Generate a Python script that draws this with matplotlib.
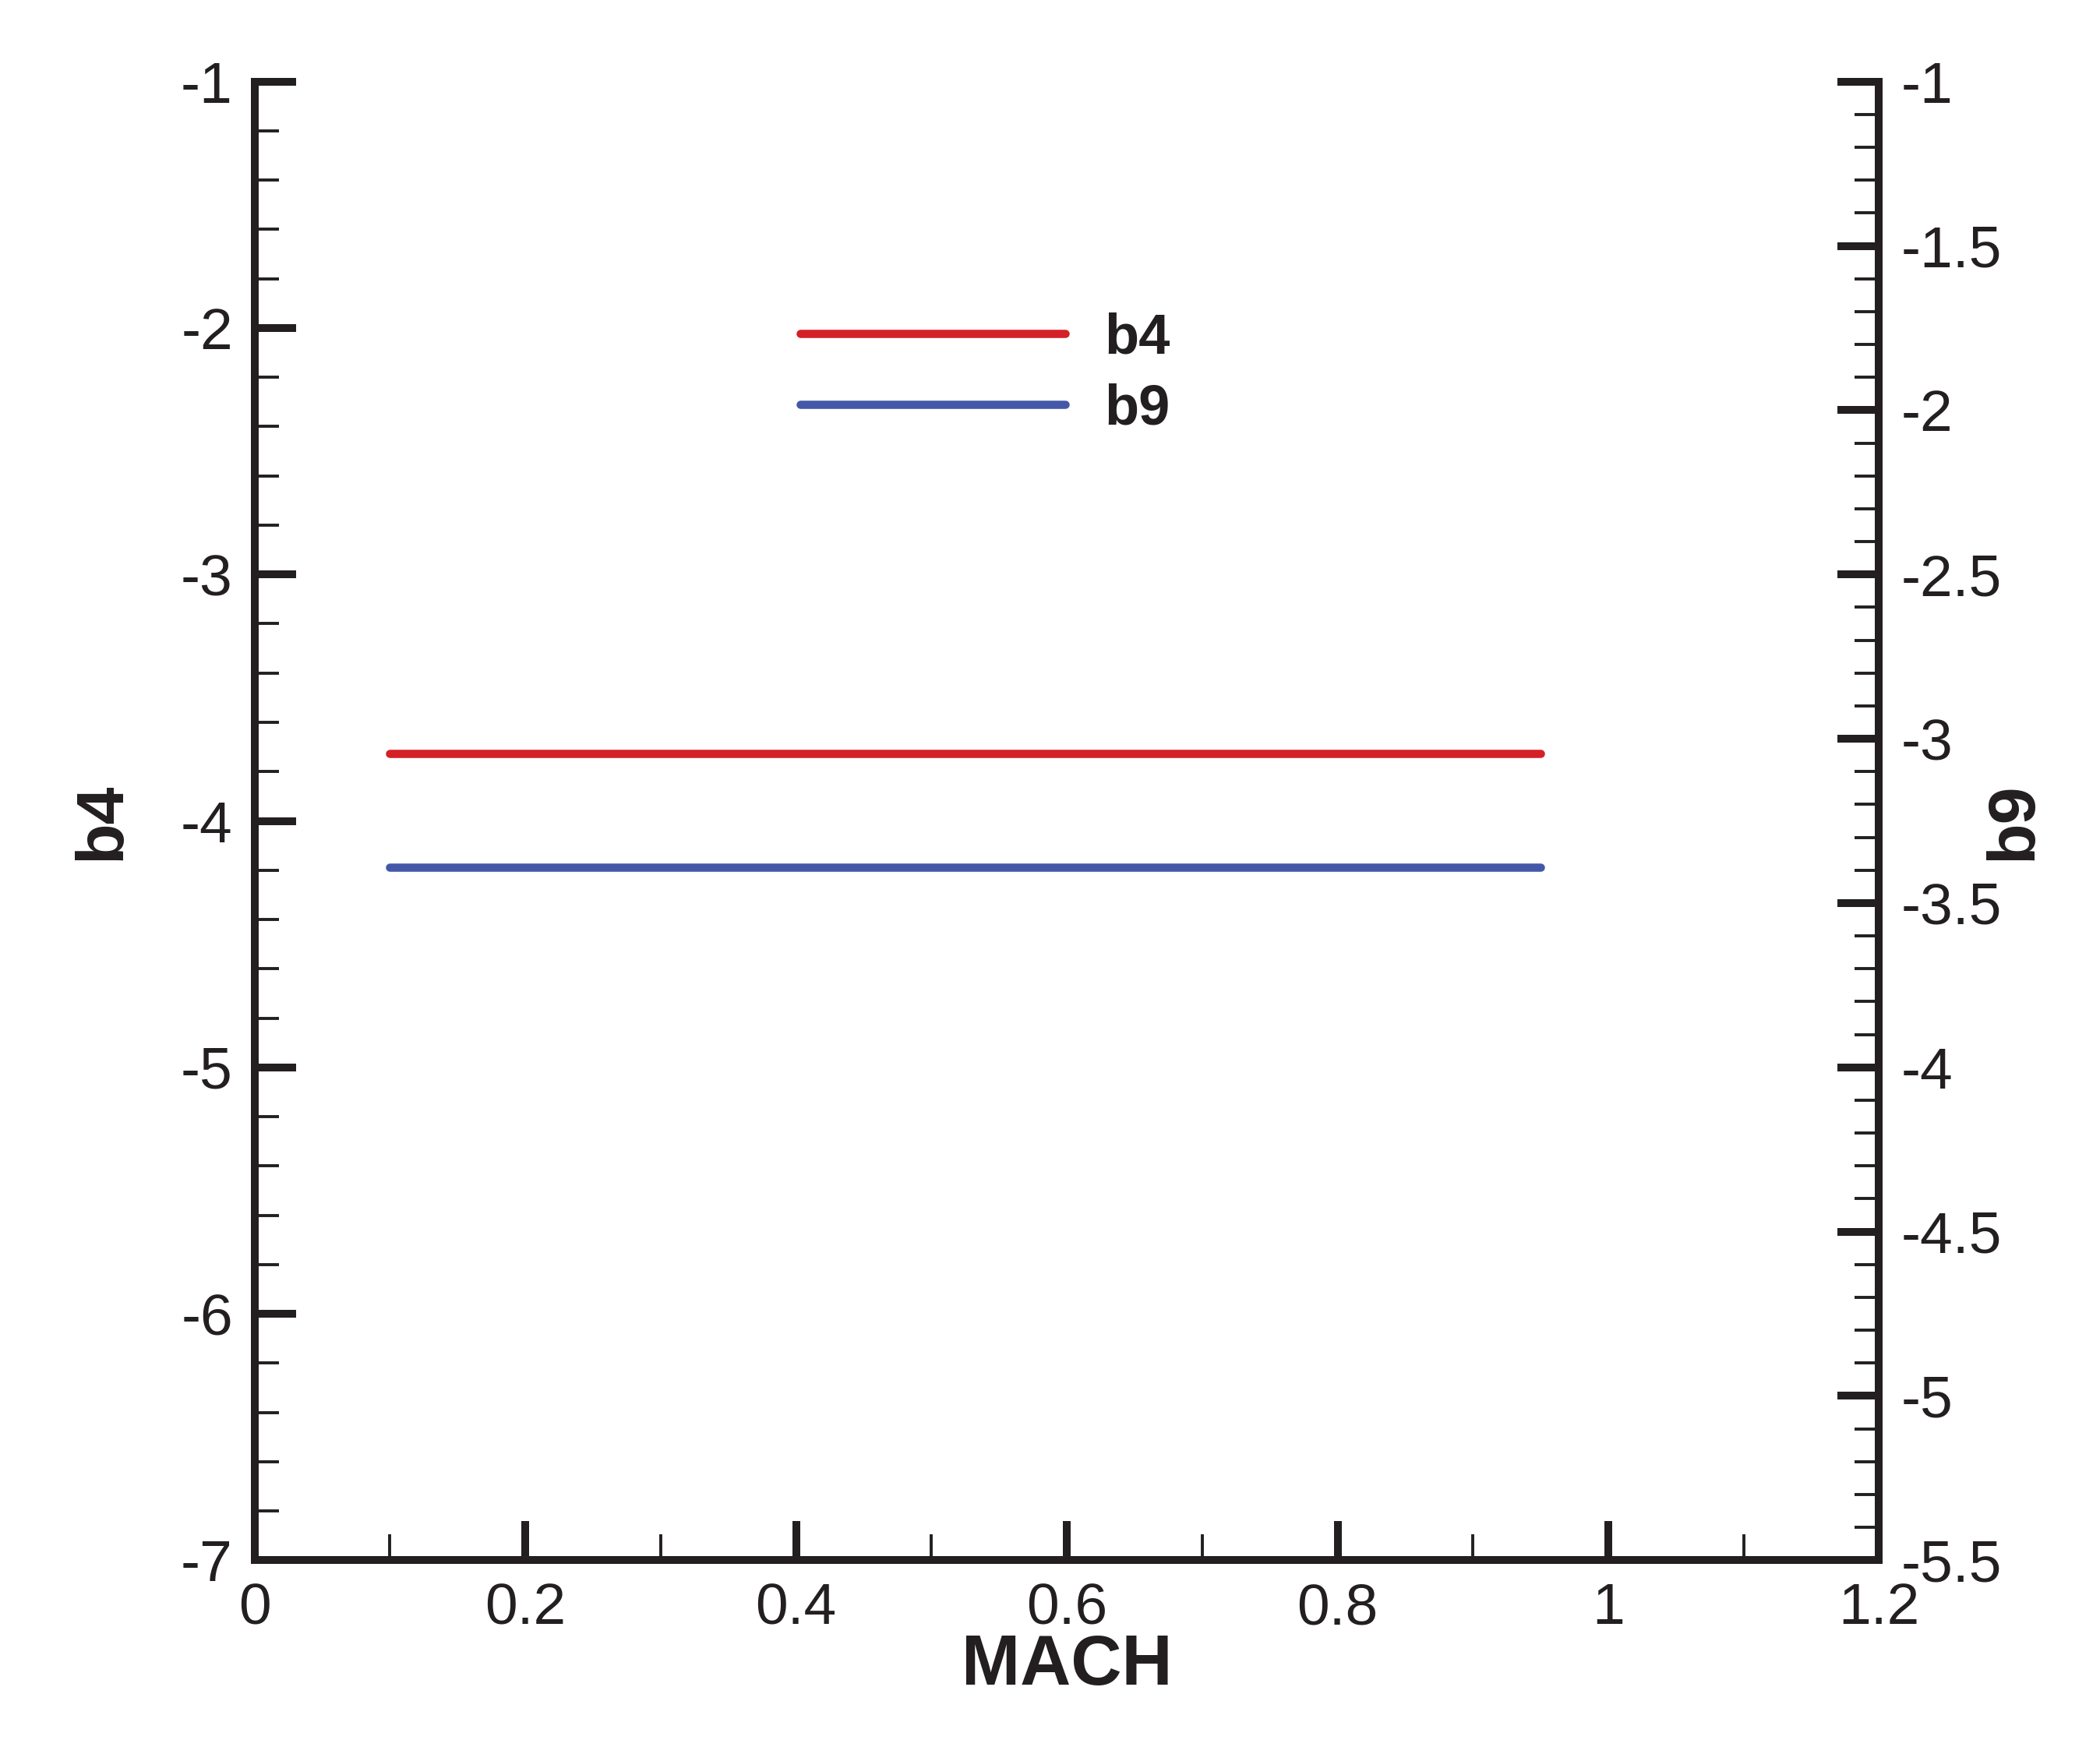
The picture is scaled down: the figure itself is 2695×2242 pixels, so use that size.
import numpy as np
import matplotlib
matplotlib.use("Agg")
import matplotlib.pyplot as plt
from matplotlib.ticker import MultipleLocator
from matplotlib.lines import Line2D

plt.rcParams['font.family'] = ['Liberation Sans', 'DejaVu Sans']

# data
mach = [0.1, 0.95]
b4 = [-3.725, -3.725]
b9 = [-3.39, -3.39]

red = "#d42027"
blue = "#4358a8"
ink = "#231f20"

fig = plt.figure(figsize=(13.475, 11.21), dpi=200)
ax = fig.add_axes([0.1212, 0.1069, 0.7736, 0.8464])
ax2 = ax.twinx()

ax.plot(mach, b4, color=red, lw=3.8, solid_capstyle="round")
ax2.plot(mach, b9, color=blue, lw=3.8, solid_capstyle="round")

ax.set_xlim(0, 1.2)
ax.set_ylim(-7, -1)
ax2.set_ylim(-5.5, -1)

ax.xaxis.set_major_locator(MultipleLocator(0.2))
ax.xaxis.set_minor_locator(MultipleLocator(0.1))
ax.yaxis.set_major_locator(MultipleLocator(1))
ax.yaxis.set_minor_locator(MultipleLocator(0.2))
ax2.yaxis.set_major_locator(MultipleLocator(0.5))
ax2.yaxis.set_minor_locator(MultipleLocator(0.1))


def fmt(v, pos):
    return "%g" % v


ax.xaxis.set_major_formatter(plt.FuncFormatter(fmt))
ax.yaxis.set_major_formatter(plt.FuncFormatter(fmt))
ax2.yaxis.set_major_formatter(plt.FuncFormatter(fmt))

for a in (ax, ax2):
    a.spines["top"].set_visible(False)
    for s in a.spines.values():
        s.set_linewidth(3.6)
        s.set_color(ink)
        s.set_capstyle("projecting")
    a.tick_params(which="major", direction="in", length=19, width=3.6,
                  color=ink, labelsize=27, labelcolor=ink)
    a.tick_params(which="minor", direction="in", length=11, width=1.4,
                  color=ink)

ax.tick_params(axis="x", which="major", length=18, pad=10)
ax.tick_params(axis="x", which="minor", length=12)
ax.tick_params(axis="y", which="major", pad=10)
ax2.tick_params(axis="y", which="major", pad=10)
ax.tick_params(top=False, right=False, which="both")
ax2.tick_params(left=False, which="both")
ax2.spines["left"].set_visible(False)
ax2.spines["bottom"].set_visible(False)

ax.set_xlabel("MACH", fontsize=32.5, fontweight="bold", color=ink, labelpad=-1)
ax.set_ylabel("b4", fontsize=31, fontweight="bold", color=ink, labelpad=22)
ax2.set_ylabel("b9", fontsize=31, fontweight="bold", color=ink, labelpad=20,
               rotation=90, va="bottom")

handles = [Line2D([], [], color=red, lw=3.8, solid_capstyle="round"),
           Line2D([], [], color=blue, lw=3.8, solid_capstyle="round")]
leg = ax.legend(handles, ["b4", "b9"], loc="upper left",
                bbox_to_anchor=(0.336, 0.844), frameon=False,
                handlelength=4.7, handletextpad=0.7, labelspacing=0.31,
                borderpad=0, borderaxespad=0,
                prop={"size": 26, "weight": "bold"})
for t in leg.get_texts():
    t.set_color(ink)

fig.savefig("out.png", dpi=200, facecolor="white")
